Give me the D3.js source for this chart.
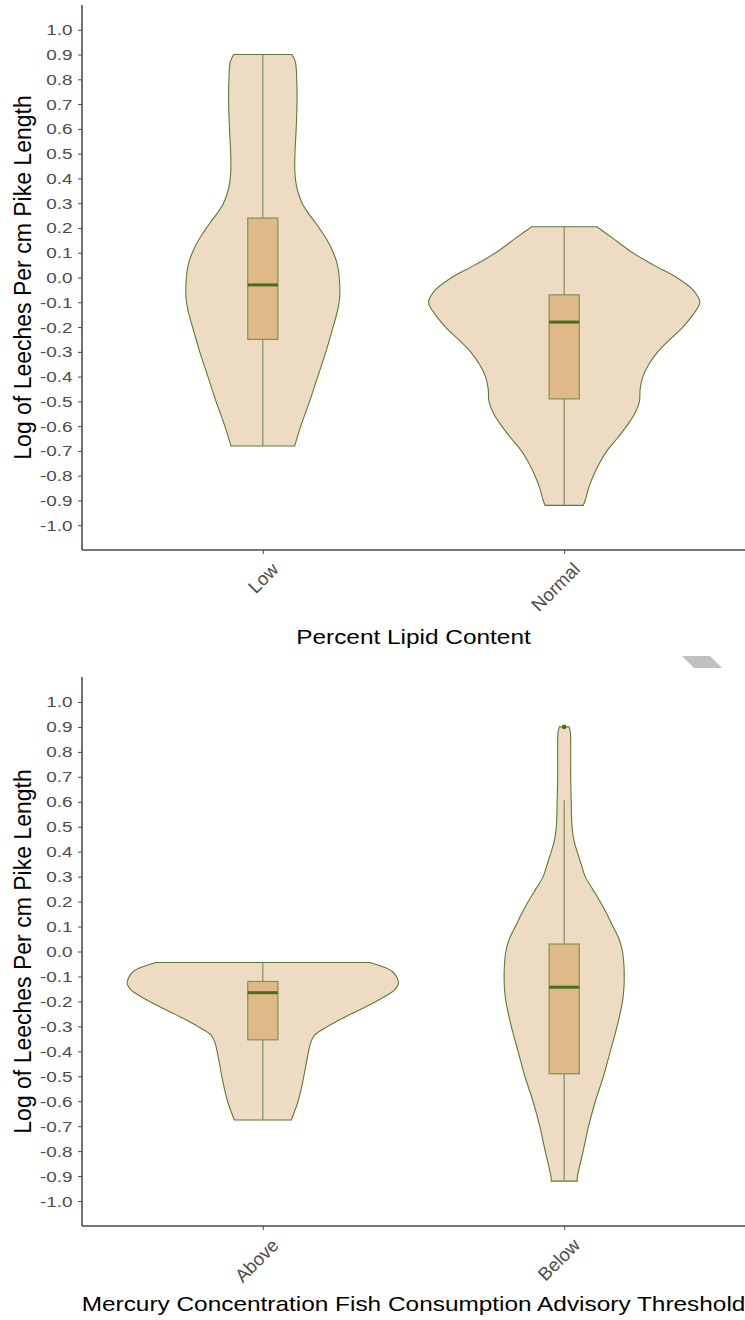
<!DOCTYPE html>
<html>
<head>
<meta charset="utf-8">
<script src="https://cdn.jsdelivr.net/npm/d3@7"></script>
<style>
  body { margin: 0; background: #fff; }
  text { font-family: "Liberation Sans", Arial, sans-serif; }
</style>
</head>
<body>
<div id="chart"></div>
<script>
// y tick values shared by both panels
var yTicks = [-1.0, -0.9, -0.8, -0.7, -0.6, -0.5, -0.4, -0.3, -0.2, -0.1, 0.0,
              0.1, 0.2, 0.3, 0.4, 0.5, 0.6, 0.7, 0.8, 0.9, 1.0]

// panel 1: lipid content
var lipidCategories = ["Low", "Normal"]
// [value, relative density]
var lipidLowDensity = [[0.90,0.215],[0.87,0.24],[0.80,0.25],[0.70,0.252],[0.60,0.246],[0.50,0.237],
  [0.43,0.236],[0.38,0.245],[0.34,0.262],[0.30,0.29],[0.26,0.335],[0.22,0.39],[0.18,0.44],
  [0.14,0.485],[0.10,0.52],[0.06,0.546],[0.02,0.56],[-0.03,0.567],[-0.08,0.567],[-0.13,0.553],
  [-0.20,0.518],[-0.30,0.465],[-0.40,0.405],[-0.50,0.345],[-0.60,0.28],[-0.68,0.235]]
var lipidNormalDensity = [[0.205,0.24],[0.158,0.36],[0.10,0.505],[0.05,0.66],[0.00,0.83],
  [-0.05,0.95],[-0.10,1.0],[-0.15,0.95],[-0.20,0.875],[-0.25,0.78],[-0.30,0.69],[-0.35,0.625],
  [-0.40,0.58],[-0.45,0.56],[-0.50,0.555],[-0.55,0.52],[-0.60,0.46],[-0.65,0.39],[-0.70,0.315],
  [-0.75,0.26],[-0.80,0.215],[-0.85,0.18],[-0.90,0.155],[-0.92,0.14]]
var lipidQ1 = [-0.25, -0.49]
var lipidMedian = [-0.03, -0.18]
var lipidQ3 = [0.24, -0.07]
var lipidLow = [-0.68, -0.92]
var lipidHigh = [0.90, 0.205]
var lipidOutliers = [[], []]

// panel 2: mercury threshold
var mercuryCategories = ["Above", "Below"]
var mercuryAboveDensity = [[-0.044,0.79],[-0.06,0.88],[-0.08,0.955],[-0.105,0.99],[-0.13,1.0],
  [-0.155,0.97],[-0.18,0.9],[-0.21,0.8],[-0.24,0.69],[-0.27,0.58],[-0.30,0.48],[-0.336,0.38],
  [-0.37,0.35],[-0.42,0.33],[-0.52,0.295],[-0.60,0.26],[-0.675,0.21]]
var mercuryBelowDensity = [[0.90,0.035],[0.88,0.045],[0.80,0.048],[0.70,0.048],[0.60,0.052],
  [0.50,0.058],[0.44,0.074],[0.40,0.096],[0.35,0.125],[0.30,0.155],[0.25,0.21],[0.20,0.265],
  [0.15,0.315],[0.10,0.36],[0.05,0.405],[0.00,0.43],[-0.05,0.44],[-0.10,0.443],[-0.15,0.44],
  [-0.20,0.43],[-0.30,0.39],[-0.40,0.34],[-0.50,0.29],[-0.60,0.23],[-0.70,0.18],[-0.80,0.14],
  [-0.90,0.098],[-0.92,0.095]]
var mercuryQ1 = [-0.354, -0.49]
var mercuryMedian = [-0.165, -0.143]
var mercuryQ3 = [-0.12, 0.03]
var mercuryLow = [-0.675, -0.92]
var mercuryHigh = [-0.044, 0.606]
var mercuryOutliers = [[], [0.90]]

var width = 745
var height = 1320
var stretch = 1.22 // the original picture is widened a bit

var violinFill = "#eddcc3"
var violinStroke = "#5f7a34"
var boxFill = "#dfb987"
var boxStroke = "#7f9157"
var medianColor = "#4d6b1f"

var svg = d3.select("#chart")
  .append("svg")
  .attr("width", width)
  .attr("height", height)

function panel(opts) {
  var g = svg.append("g")

  // ggplot style discrete expansion: 0.6 units each side
  var unit = (opts.right - opts.left) / 2.2
  var xPos = d3.scalePoint()
    .domain(opts.categories)
    .range([opts.left + 0.6 * unit, opts.right - 0.6 * unit])

  var y = d3.scaleLinear()
    .domain([-1.1, 1.1])
    .range([opts.bottom, opts.top])

  var w = d3.scaleLinear().domain([0, 1]).range([0, 0.45 * unit])

  // violins
  opts.densities.forEach(function (dens, i) {
    var cx = xPos(opts.categories[i])
    var area = d3.area()
      .y(function (d) { return y(d[0]) })
      .x0(function (d) { return cx - w(d[1]) })
      .x1(function (d) { return cx + w(d[1]) })
      .curve(d3.curveCatmullRom)
    g.append("path")
      .datum(dens)
      .attr("d", area)
      .attr("fill", violinFill)
      .attr("stroke", violinStroke)
      .attr("stroke-width", 1.1)
  })

  // boxplots
  var bw = 0.05 * unit
  opts.categories.forEach(function (c, i) {
    var cx = xPos(c)
    g.append("line")
      .attr("x1", cx).attr("x2", cx)
      .attr("y1", y(opts.q3[i])).attr("y2", y(opts.high[i]))
      .attr("stroke", boxStroke).attr("stroke-width", 1.2)
    g.append("line")
      .attr("x1", cx).attr("x2", cx)
      .attr("y1", y(opts.q1[i])).attr("y2", y(opts.low[i]))
      .attr("stroke", boxStroke).attr("stroke-width", 1.2)
    g.append("rect")
      .attr("x", cx - bw)
      .attr("width", 2 * bw)
      .attr("y", y(opts.q3[i]))
      .attr("height", y(opts.q1[i]) - y(opts.q3[i]))
      .attr("fill", boxFill)
      .attr("stroke", boxStroke)
      .attr("stroke-width", 1.2)
    g.append("line")
      .attr("x1", cx - bw).attr("x2", cx + bw)
      .attr("y1", y(opts.median[i])).attr("y2", y(opts.median[i]))
      .attr("stroke", medianColor).attr("stroke-width", 3)
    g.selectAll(null)
      .data(opts.outliers[i])
      .enter()
      .append("circle")
      .attr("cx", cx)
      .attr("cy", function (d) { return y(d) })
      .attr("r", 2.3)
      .attr("fill", medianColor)
  })

  // y axis
  var yAxis = g.append("g")
    .attr("transform", "translate(" + opts.left + ",0)")
    .call(d3.axisLeft(y).tickValues(yTicks).tickSizeOuter(0).tickSize(4)
      .tickFormat(function (d) { return (Math.round(d * 10) / 10).toFixed(1) }))
  yAxis.select(".domain").attr("stroke", "#4d4d4d").attr("stroke-width", 1.6)
    .attr("d", "M0," + opts.top + "V" + opts.bottom)
  yAxis.selectAll(".tick line").attr("stroke", "#4d4d4d").attr("stroke-width", 1)
  yAxis.selectAll(".tick text")
    .attr("fill", "#4d4d4d")
    .attr("x", -9.5 / stretch)
    .attr("transform", "scale(" + stretch + ",1)")
    .style("font-size", "15.5px")
    .style("font-family", "'Liberation Sans', Arial, sans-serif")

  // x axis
  var xAxis = g.append("g")
    .attr("transform", "translate(0," + opts.bottom + ")")
    .call(d3.axisBottom(xPos).tickSizeOuter(0).tickSize(4))
  xAxis.select(".domain").attr("stroke", "#4d4d4d").attr("stroke-width", 1.6)
    .attr("d", "M" + opts.left + ",0H" + opts.right)
  xAxis.selectAll(".tick line").attr("stroke", "#4d4d4d").attr("stroke-width", 1)
  xAxis.selectAll(".tick text")
    .attr("fill", "#4d4d4d")
    .style("font-size", "18.5px")
    .style("font-family", "'Liberation Sans', Arial, sans-serif")
    .attr("text-anchor", "end")
    .attr("y", 0)
    .attr("dy", "0.72em")
    .attr("transform", "translate(7,11) rotate(-45)")

  // titles
  g.append("text")
    .attr("transform", "translate(" + opts.yTitleX + "," + (opts.top + opts.bottom) / 2 + ") rotate(-90)")
    .attr("text-anchor", "middle")
    .style("font-size", "23px")
    .attr("fill", "#000")
    .text("Log of Leeches Per cm Pike Length")

  g.append("text")
    .attr("transform", "translate(" + (opts.left + opts.right) / 2 + "," + opts.xTitleY + ") scale(" + stretch + ",1)")
    .attr("text-anchor", "middle")
    .style("font-size", "20px")
    .attr("fill", "#000")
    .text(opts.xTitle)
}

panel({
  categories: lipidCategories,
  densities: [lipidLowDensity, lipidNormalDensity],
  q1: lipidQ1, median: lipidMedian, q3: lipidQ3,
  low: lipidLow, high: lipidHigh, outliers: lipidOutliers,
  left: 82, right: 745, top: 5, bottom: 550,
  yTitleX: 31, xTitleY: 644,
  xTitle: "Percent Lipid Content"
})

panel({
  categories: mercuryCategories,
  densities: [mercuryAboveDensity, mercuryBelowDensity],
  q1: mercuryQ1, median: mercuryMedian, q3: mercuryQ3,
  low: mercuryLow, high: mercuryHigh, outliers: mercuryOutliers,
  left: 82, right: 745, top: 677, bottom: 1226,
  yTitleX: 31, xTitleY: 1311,
  xTitle: "Mercury Concentration Fish Consumption Advisory Threshold"
})

// small grey artefact between panels
svg.append("path")
  .attr("d", "M682,656L710,656L722,668L694,668Z")
  .attr("fill", "#c0c0c0")
</script>
</body>
</html>
